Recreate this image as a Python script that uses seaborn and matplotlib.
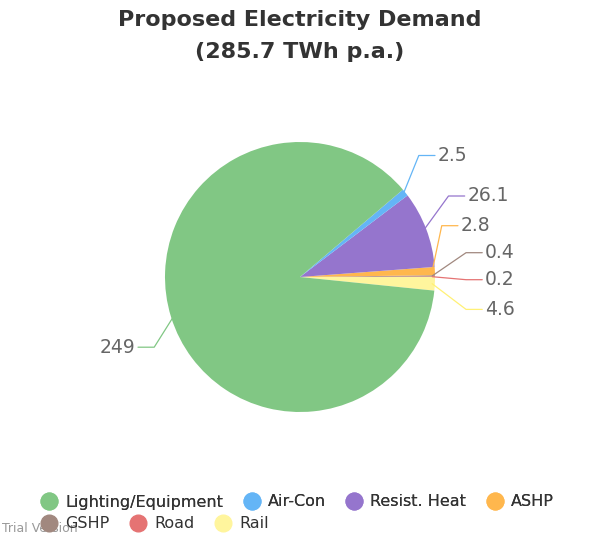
import numpy as np
import matplotlib
matplotlib.use("Agg")
import matplotlib.pyplot as plt
import seaborn as sns
from matplotlib.lines import Line2D

sns.set_theme(style="white")
plt.rcParams['font.family'] = ['DejaVu Sans']

categories = ['Lighting/Equipment', 'Air-Con', 'Resist. Heat', 'ASHP', 'GSHP', 'Road', 'Rail']
values = [249, 2.5, 26.1, 2.8, 0.4, 0.2, 4.6]
labels = ['249', '2.5', '26.1', '2.8', '0.4', '0.2', '4.6']
colors = ['#81c784', '#64b5f6', '#9575cd', '#ffb74d', '#a1887f', '#e57373', '#fff59d']
# text positions of the outside labels (axis units, radius = 1)
label_pos = [(-1.20, -0.52), (1.00, 0.90), (1.22, 0.60), (1.17, 0.38),
             (1.35, 0.18), (1.35, -0.02), (1.35, -0.24)]

fig = plt.figure(figsize=(6, 5.38), dpi=100)
ax = fig.add_axes([0, 0, 1, 1])
s = 135

total = sum(values)
start = -360 * values[-1] / total
wedges, _ = ax.pie(values[::-1], colors=colors[::-1], startangle=start,
                   counterclock=True, radius=1,
                   wedgeprops=dict(linewidth=0))
wedges = wedges[::-1]

for w, lab, (tx, ty), c in zip(wedges, labels, label_pos, colors):
    mid = np.deg2rad((w.theta1 + w.theta2) / 2)
    px, py = 0.98 * np.cos(mid), 0.98 * np.sin(mid)
    side = 1 if tx > 0 else -1
    bend_x = tx - side * 0.12
    lc = c if c != '#fff59d' else '#fff176'
    ax.plot([px, bend_x, tx], [py, ty, ty], color=lc, lw=0.9)
    ax.text(tx + side * 0.02, ty, lab, ha='left' if side > 0 else 'right',
            va='center', fontsize=13.5, color='#666666')

ax.set_aspect('equal')
ax.set_xlim(-300 / s, 300 / s)
ax.set_ylim((277 - 538) / s, 277 / s)
ax.axis('off')

fig.text(0.5, 1 - 20 / 538, 'Proposed Electricity Demand', ha='center', va='center',
         fontsize=16, fontweight='bold', color='#333333')
fig.text(0.5, 1 - 52 / 538, '(285.7 TWh p.a.)', ha='center', va='center',
         fontsize=16, fontweight='bold', color='#333333')

handles = [Line2D([], [], marker='o', ls='', markersize=12, markerfacecolor=c,
                  markeredgecolor=c) for c in colors]
leg1 = fig.legend(handles[:4], categories[:4], loc='center left', ncol=4,
                  bbox_to_anchor=(33 / 600, 1 - 502 / 538), frameon=False,
                  fontsize=11.5, handletextpad=0.0, columnspacing=0.8,
                  borderaxespad=0, borderpad=0)
for t in leg1.get_texts():
    t.set_color('#333333')
leg2 = fig.legend(handles[4:], categories[4:], loc='center left', ncol=3,
                  bbox_to_anchor=(33 / 600, 1 - 524 / 538), frameon=False,
                  fontsize=11.5, handletextpad=0.0, columnspacing=0.8,
                  borderaxespad=0, borderpad=0)
for t in leg2.get_texts():
    t.set_color('#333333')
fig.add_artist(leg1)

fig.text(2 / 600, 1 - 529 / 538, 'Trial Version', ha='left', va='center',
         fontsize=9, color='#999999')

plt.savefig('out.png', dpi=100)
